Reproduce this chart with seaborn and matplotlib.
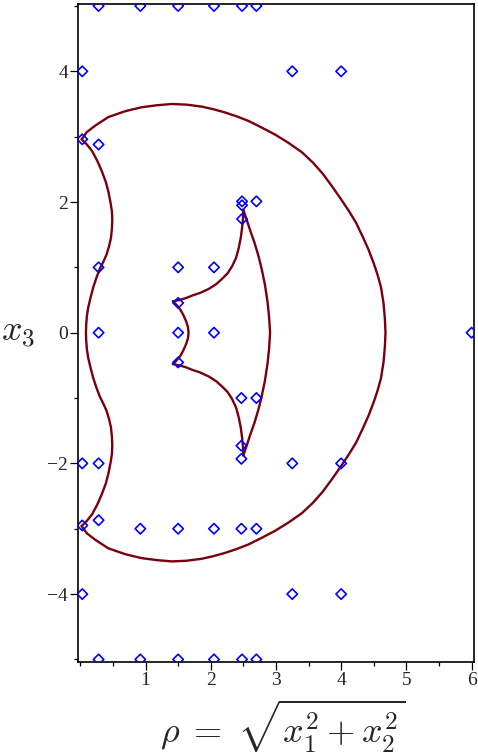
import matplotlib.pyplot as plt
import matplotlib.ticker as mticker
import pandas as pd
import seaborn as sns

# outer crescent arc, top cusp -> right -> bottom cusp
outer_rho = [0.02, 0.10, 0.23, 0.43, 0.69, 0.94, 1.17, 1.40, 1.63, 1.86, 2.04, 2.22,
             2.40, 2.58, 2.78, 2.99, 3.20, 3.40, 3.57, 3.72, 3.86, 4.00, 4.12, 4.23,
             4.33, 4.42, 4.50, 4.56, 4.61, 4.65, 4.67, 4.68,
             4.67, 4.65, 4.61, 4.56, 4.50, 4.42, 4.33, 4.23, 4.12, 4.00, 3.86, 3.72,
             3.57, 3.40, 3.20, 2.99, 2.78, 2.58, 2.40, 2.22, 2.04, 1.86, 1.63, 1.40,
             1.17, 0.94, 0.69, 0.43, 0.23, 0.10, 0.02]
outer_x3 = [2.96, 3.07, 3.17, 3.30, 3.39, 3.45, 3.48, 3.50, 3.49, 3.46, 3.42, 3.37,
            3.31, 3.24, 3.14, 3.03, 2.90, 2.76, 2.60, 2.43, 2.24, 2.04, 1.86, 1.68,
            1.47, 1.27, 1.06, 0.88, 0.70, 0.45, 0.22, 0.00,
            -0.22, -0.45, -0.70, -0.88, -1.06, -1.27, -1.47, -1.68, -1.86, -2.04, -2.24, -2.43,
            -2.60, -2.76, -2.90, -3.03, -3.14, -3.24, -3.31, -3.37, -3.42, -3.46, -3.49, -3.50,
            -3.48, -3.45, -3.39, -3.30, -3.17, -3.07, -2.96]

# wavy left curve between the two cusps
wave_rho = [0.02, 0.10, 0.18, 0.26, 0.33, 0.39, 0.43, 0.465, 0.485, 0.49, 0.485, 0.47,
            0.44, 0.40, 0.35, 0.30, 0.25, 0.20, 0.155, 0.12, 0.10, 0.09, 0.086,
            0.09, 0.10, 0.12, 0.155, 0.20, 0.25, 0.30, 0.35, 0.40, 0.44, 0.47,
            0.485, 0.49, 0.485, 0.465, 0.43, 0.39, 0.33, 0.26, 0.18, 0.10, 0.02]
wave_x3 = [2.96, 2.88, 2.78, 2.63, 2.47, 2.31, 2.16, 1.98, 1.85, 1.73, 1.60, 1.45,
           1.32, 1.19, 1.08, 0.98, 0.85, 0.70, 0.53, 0.38, 0.25, 0.12, 0.00,
           -0.12, -0.25, -0.38, -0.53, -0.70, -0.85, -0.98, -1.08, -1.19, -1.32, -1.45,
           -1.60, -1.73, -1.85, -1.98, -2.16, -2.31, -2.47, -2.63, -2.78, -2.88, -2.96]

# inner four-cusp shape
inner_top_rho = [1.42, 1.52, 1.62, 1.72, 1.84, 1.97, 2.08, 2.17, 2.26, 2.33, 2.39, 2.43,
                 2.46, 2.48, 2.495, 2.50]
inner_top_x3 = [0.48, 0.50, 0.53, 0.57, 0.61, 0.67, 0.74, 0.82, 0.91, 1.02, 1.15, 1.30,
                1.45, 1.60, 1.75, 1.88]
inner_bot_rho = [1.42, 1.52, 1.62, 1.72, 1.84, 1.97, 2.08, 2.17, 2.26, 2.33, 2.39, 2.43,
                 2.46, 2.48, 2.495, 2.50]
inner_bot_x3 = [-0.48, -0.50, -0.53, -0.57, -0.61, -0.67, -0.74, -0.82, -0.91, -1.02, -1.15, -1.30,
                -1.45, -1.60, -1.75, -1.88]
inner_left_rho = [1.42, 1.47, 1.53, 1.58, 1.62, 1.65, 1.66, 1.65, 1.62, 1.58, 1.53, 1.47, 1.42]
inner_left_x3 = [0.48, 0.43, 0.36, 0.27, 0.18, 0.09, 0.00, -0.09, -0.18, -0.27, -0.36, -0.43, -0.48]
inner_right_rho = [2.50, 2.55, 2.61, 2.67, 2.73, 2.78, 2.83, 2.87, 2.895, 2.91,
                   2.895, 2.87, 2.83, 2.78, 2.73, 2.67, 2.61, 2.55, 2.50]
inner_right_x3 = [1.88, 1.73, 1.55, 1.38, 1.18, 0.98, 0.74, 0.48, 0.24, 0.00,
                  -0.24, -0.48, -0.74, -0.98, -1.18, -1.38, -1.55, -1.73, -1.88]

# sample points (diamonds)
pts_rho = [0.28, 0.92, 1.50, 2.05, 2.48, 2.70,
           0.03, 3.25, 4.00,
           0.03, 0.28,
           2.48, 2.48, 2.70, 2.48,
           0.28, 1.50, 2.05,
           1.50,
           0.28, 1.50, 2.05, 6.00,
           1.50,
           2.47, 2.70,
           2.47, 2.47,
           0.03, 0.28, 3.25, 4.00,
           0.03, 0.28,
           0.92, 1.50, 2.05, 2.47, 2.70,
           0.03, 3.25, 4.00,
           0.28, 0.92, 1.50, 2.05, 2.48, 2.70]
pts_x3 = [5.0, 5.0, 5.0, 5.0, 5.0, 5.0,
          4.0, 4.0, 4.0,
          2.96, 2.88,
          2.01, 1.95, 2.01, 1.74,
          1.0, 1.0, 1.0,
          0.455,
          0.0, 0.0, 0.0, 0.0,
          -0.455,
          -1.0, -1.0,
          -1.73, -1.93,
          -2.0, -2.0, -2.0, -2.0,
          -2.95, -2.87,
          -3.0, -3.0, -3.0, -3.0, -3.0,
          -4.0, -4.0, -4.0,
          -5.0, -5.0, -5.0, -5.0, -5.0, -5.0]

curves = {
    "outer": (outer_rho, outer_x3),
    "wave": (wave_rho, wave_x3),
    "inner_top": (inner_top_rho, inner_top_x3),
    "inner_bot": (inner_bot_rho, inner_bot_x3),
    "inner_left": (inner_left_rho, inner_left_x3),
    "inner_right": (inner_right_rho, inner_right_x3),
}
lines = pd.concat(
    [pd.DataFrame({"rho": r, "x3": z, "curve": name}) for name, (r, z) in curves.items()],
    ignore_index=True,
)
pts = pd.DataFrame({"rho": pts_rho, "x3": pts_x3})

sns.set_theme(style="ticks")
plt.rcParams["font.family"] = ["Liberation Serif", "DejaVu Serif"]
plt.rcParams["mathtext.fontset"] = "cm"

fig = plt.figure(figsize=(4.78, 7.56), dpi=100)
ax = fig.add_axes([0.163, 0.1243, 0.8286, 0.8704])

sns.lineplot(data=lines, x="rho", y="x3", units="curve", estimator=None, sort=False,
             color="#78000E", linewidth=1.7, ax=ax)
sns.scatterplot(data=pts, x="rho", y="x3", marker="D", s=28, facecolor="none",
                edgecolor="#0000FF", linewidth=1.2, zorder=3, ax=ax)

ax.set_xlim(-0.037, 6.037)
ax.set_ylim(-5.04, 5.03)
ax.xaxis.set_major_locator(mticker.FixedLocator([1, 2, 3, 4, 5, 6]))
ax.xaxis.set_minor_locator(mticker.MultipleLocator(0.5))
ax.yaxis.set_major_locator(mticker.FixedLocator([-4, -2, 0, 2, 4]))
ax.yaxis.set_minor_locator(mticker.FixedLocator([-5, -3, -1, 1, 3, 5]))
ax.tick_params(which="major", length=5.5, width=0.9, labelsize=14, pad=1.5, color="black")
ax.tick_params(which="minor", length=3, width=0.9, color="black")
ax.yaxis.set_major_formatter(mticker.FuncFormatter(lambda v, p: f"{int(v)}".replace("-", "\u2212")))
for s in ax.spines.values():
    s.set_linewidth(1.2)
    s.set_color("black")

ax.set_xlabel(r"$\rho \;=\; \sqrt{x_1^2 + x_2^2}$", fontsize=26)
ax.xaxis.set_label_coords(0.516, -0.141)
ax.xaxis.label.set_va("bottom")
ax.set_ylabel(r"$x_3$", fontsize=26, rotation=0)
ax.yaxis.set_label_coords(-0.150, 0.5)
ax.yaxis.label.set_va("center")
ax.yaxis.label.set_ha("center")

fig.savefig("out.png", dpi=100)
